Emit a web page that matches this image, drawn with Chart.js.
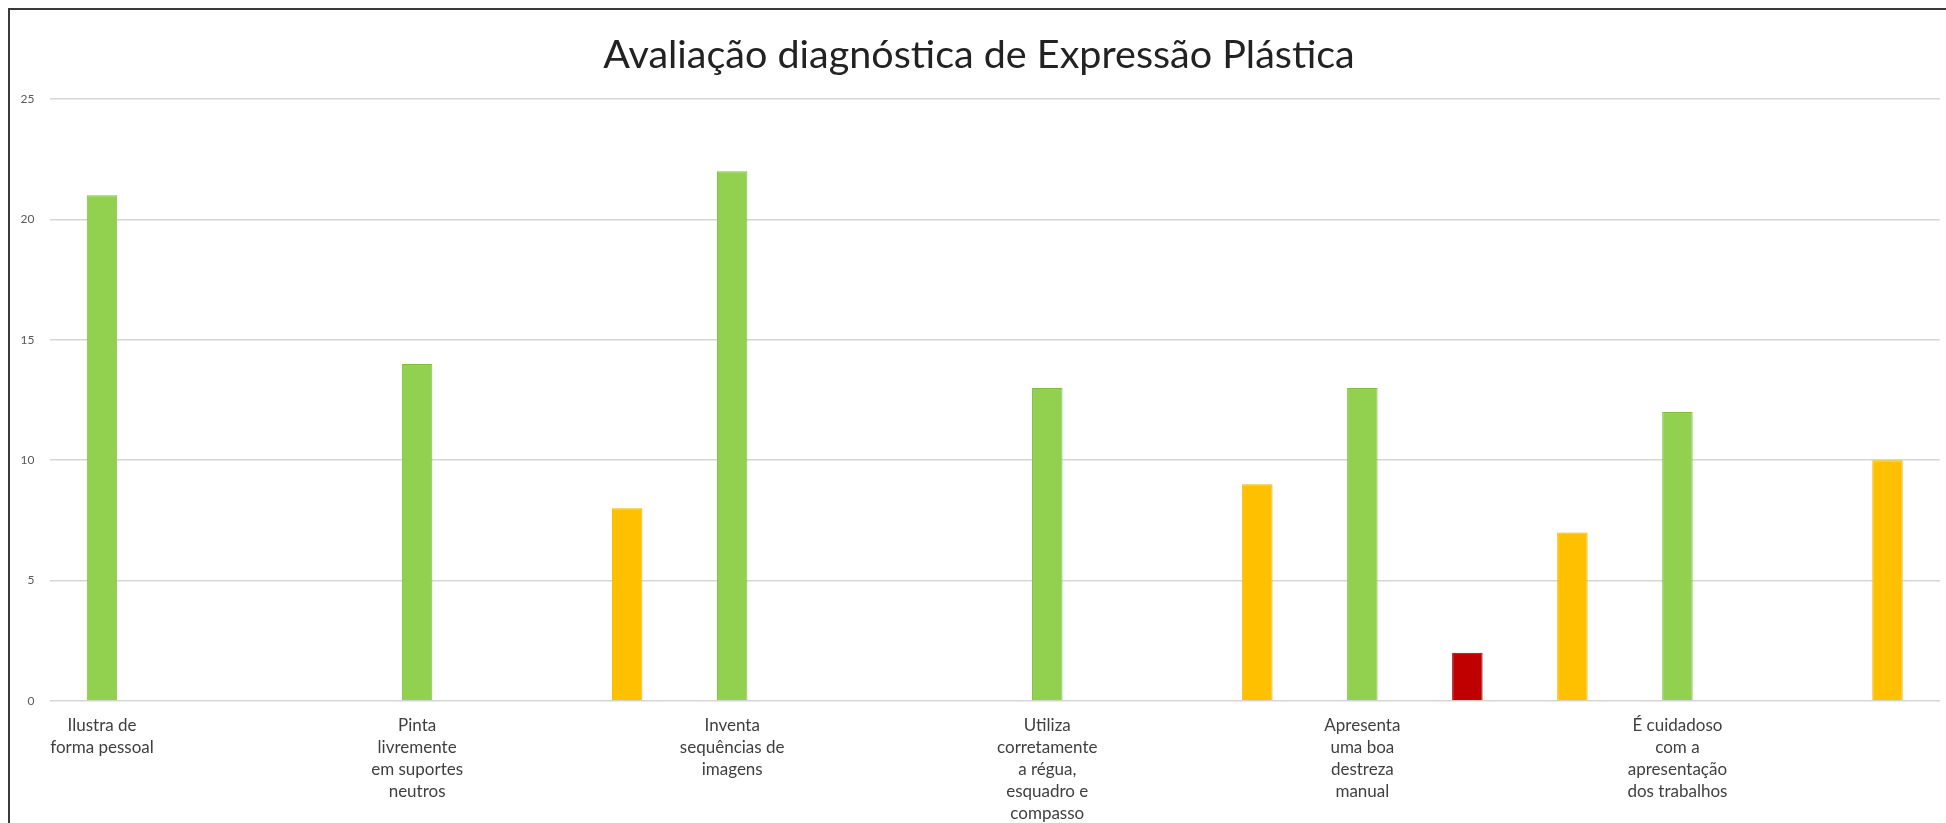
<!DOCTYPE html>
<html>
<head>
<meta charset="utf-8">
<script src="https://cdn.jsdelivr.net/npm/chart.js@4/dist/chart.umd.min.js"></script>
<style>
  html, body { margin: 0; padding: 0; background: #fff; overflow: hidden; }
  #wrap { position: relative; width: 1946px; height: 823px; }
  #frame { position: absolute; left: 8px; top: 8px; right: 0; bottom: -10px;
           border-left: 2px solid #3a3a3a; border-top: 2px solid #3a3a3a; }
  canvas { position: absolute; left: 0; top: 0; }
</style>
</head>
<body>
<div id="wrap">
  <div id="frame"></div>
  <canvas id="c" width="1946" height="823"></canvas>
</div>
<script>
const chartTitle = "Avaliação diagnóstica de Expressão Plástica";
const categories = [
  ["Ilustra de", "forma pessoal"],
  ["Pinta", "livremente", "em suportes", "neutros"],
  ["Inventa", "sequências de", "imagens"],
  ["Utiliza", "corretamente", "a régua,", "esquadro e", "compasso"],
  ["Apresenta", "uma boa", "destreza", "manual"],
  ["É cuidadoso", "com a", "apresentação", "dos trabalhos"]
];
const greenValues  = [21, 14, 22, 13, 13, 12];
const redValues    = [0, 0, 0, 0, 2, 0];
const orangeValues = [0, 8, 0, 9, 7, 10];
const yTicks = [0, 5, 10, 15, 20, 25];

// each category uses three slots: green, red, orange
const slotLabels = [];
const greenSlots = [], redSlots = [], orangeSlots = [];
categories.forEach((cat, i) => {
  slotLabels.push(cat, "", "");
  greenSlots.push(greenValues[i] > 0 ? greenValues[i] : null, null, null);
  redSlots.push(null, redValues[i] > 0 ? redValues[i] : null, null);
  orangeSlots.push(null, null, orangeValues[i] > 0 ? orangeValues[i] : null);
});

new Chart(document.getElementById('c'), {
  type: 'bar',
  data: {
    labels: slotLabels,
    datasets: [
      { label: 'Verde', data: greenSlots, backgroundColor: '#92D050', borderColor: '#7CBF3F', borderWidth: 1 },
      { label: 'Vermelho', data: redSlots, backgroundColor: '#C00000', borderColor: '#8E0000', borderWidth: 1 },
      { label: 'Laranja', data: orangeSlots, backgroundColor: '#FFC000', borderColor: '#F2B600', borderWidth: 1 }
    ]
  },
  options: {
    responsive: false,
    animation: false,
    devicePixelRatio: 1,
    layout: { padding: { left: 18, right: 6, top: 0, bottom: 0 } },
    datasets: { bar: { grouped: false, categoryPercentage: 1, barPercentage: 0.29, borderSkipped: 'start' } },
    plugins: {
      legend: { display: false },
      tooltip: { enabled: false },
      title: {
        display: true,
        text: chartTitle,
        color: '#222222',
        font: { family: 'Lato', size: 39.5, weight: 'normal', lineHeight: 1.2 },
        padding: { top: 32, bottom: 19.6 }
      }
    },
    scales: {
      x: {
        grid: { display: false, drawTicks: false },
        border: { display: false },
        ticks: {
          autoSkip: false, maxRotation: 0, minRotation: 0, padding: 13,
          color: '#3f3f3f',
          font: { family: 'Lato', size: 17, lineHeight: 1.3 }
        },
        afterFit: (s) => { s.height = 122; }
      },
      y: {
        min: 0, max: 25,
        afterBuildTicks: (s) => { s.ticks = yTicks.map(v => ({ value: v })); },
        grid: { color: '#d6d6d6', lineWidth: 1.5, drawTicks: false },
        border: { display: false },
        ticks: { padding: 15, color: '#595959', font: { family: 'Lato', size: 12 } },
        afterFit: (s) => { s.width = 31.5; }
      }
    }
  }
});
</script>
</body>
</html>
